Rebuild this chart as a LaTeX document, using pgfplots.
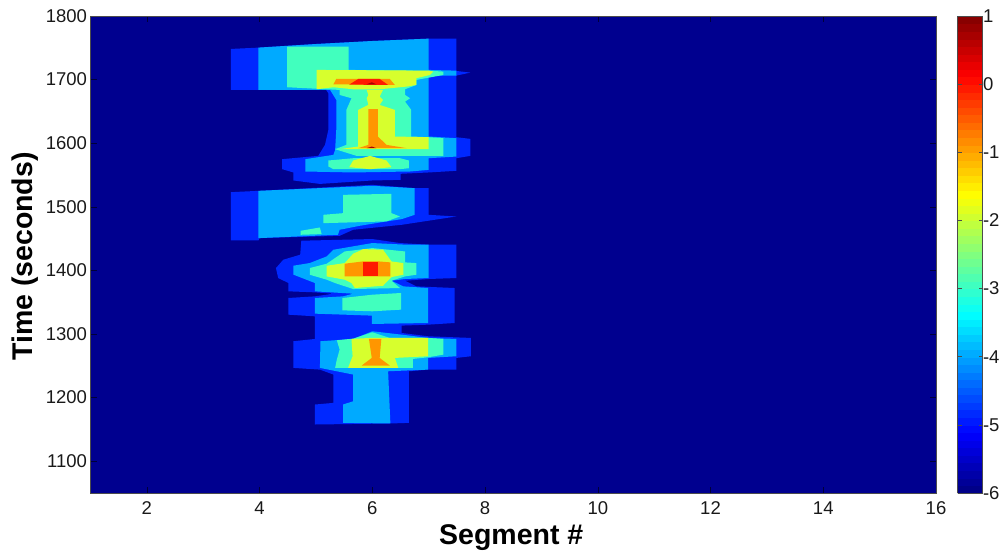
\documentclass[border=0pt]{standalone}
\usepackage{pgfplots}
\pgfplotsset{compat=1.18}
\usepackage{fontspec}
\setmainfont{Liberation Sans}
\definecolor{lvA}{RGB}{0,0,143}
\definecolor{lvB}{RGB}{0,40,255}
\definecolor{lvC}{RGB}{0,170,255}
\definecolor{lvD}{RGB}{65,255,190}
\definecolor{lvE}{RGB}{215,255,45}
\definecolor{lvF}{RGB}{255,150,0}
\definecolor{lvG}{RGB}{255,25,0}
\definecolor{lvH}{RGB}{170,0,0}
\definecolor{ticktxt}{RGB}{25,25,25}
\pgfplotsset{
  lev/.style={fill=#1,draw=none,mark=none,forget plot},
  /pgf/number format/assume math mode=true,
  /pgf/number format/set thousands separator={},
}
\begin{document}
\begin{tikzpicture}
\useasboundingbox (0,0) rectangle (1005pt,550pt);
\begin{axis}[
  at={(90.5pt,57pt)},anchor=south west,
  scale only axis,width=845.5pt,height=477pt,
  xmin=1,xmax=16,ymin=1050,ymax=1800,
  xtick={2,4,...,16},ytick={1100,1200,...,1800},
  tick align=inside,tick pos=both,major tick length=6pt,
  tick style={color=black!60!lvA,line width=0.5pt},
  axis line style={color=black!70,line width=0.7pt},
  axis on top,
  axis background/.style={fill=lvA},
  tick label style={font=\fontsize{18.5}{20}\selectfont,text=ticktxt},
  xticklabel style={yshift=-5pt},
  xlabel={\fontsize{28.5}{30}\selectfont\bfseries Segment \#},
  ylabel={\fontsize{28.5}{30}\selectfont\bfseries Time (seconds)},
  xlabel style={yshift=-3pt,xshift=-2pt},
  ylabel style={yshift=1pt,xshift=-2pt},
  colormap/jet,
  point meta min=-6,point meta max=1,
  colorbar sampled,
  colorbar style={
    samples=64,
    at={(parent axis.north east)},anchor=north west,xshift=13pt,
    width=25pt,
    ytick={-6,-5,...,1},
    ytick pos=both,yticklabel pos=right,
    tick align=inside,major tick length=4pt,
    tick style={color=black!70,line width=0.5pt},
    axis line style={color=black!70,line width=0.6pt},
    yticklabel style={font=\fontsize{18.5}{20}\selectfont,text=ticktxt,xshift=-3pt},
  },
]
% ---- level -5
\addplot[lev=lvB] coordinates {(3.49,1748.2)(3.98,1750.3)(5.01,1756)(6.0,1760.7)(7.0,1764.4)(7.49,1764.4)(7.49,1713.6)(7.74,1711)(7.49,1706.3)(7.49,1609.4)(7.74,1606.8)(7.74,1580.1)(7.49,1576.4)(7.49,1556.6)(7.0,1554)(6.5,1551.9)(6.5,1542.4)(6.0,1541.4)(5.07,1536)(4.6,1541.4)(4.6,1554)(4.4,1559.2)(4.4,1574.9)(5.04,1580.1)(5.16,1597.4)(5.22,1621)(5.22,1678.5)(5.18,1683.8)(3.98,1683.8)(3.49,1683.8)} --cycle;
\addplot[lev=lvB] coordinates {(3.49,1523)(3.98,1525.1)(6.0,1534.5)(6.75,1529.3)(7.0,1529.3)(7.0,1487.4)(7.49,1484.8)(6.52,1471.7)(5.66,1463.9)(5.42,1454.4)(4.0,1450.8)(3.98,1447.1)(3.49,1447.1)} --cycle;
\addplot[lev=lvB] coordinates {(4.74,1446.7)(6.0,1449.3)(6.49,1443)(7.0,1440.4)(7.49,1440.4)(7.49,1388)(7.0,1386.5)(6.58,1383.8)(6.78,1374.9)(7.46,1372.3)(7.46,1317.3)(6.99,1314.7)(6.52,1313.2)(6.52,1301.6)(6.99,1296.4)(7.75,1293.8)(7.75,1265)(7.49,1262.4)(7.49,1244)(6.99,1244)(6.65,1241.4)(6.65,1160.3)(6.32,1159.3)(4.98,1157.7)(4.98,1189.1)(5.31,1191.7)(5.31,1236.2)(5.07,1244)(4.6,1246.7)(4.6,1288.6)(4.98,1292.2)(4.98,1327.8)(4.51,1330.4)(4.51,1356.6)(4.98,1359.2)(5.31,1363.4)(4.98,1365.5)(4.51,1367.1)(4.51,1380.2)(4.33,1388)(4.29,1403.7)(4.42,1416.8)(4.72,1424.7)} --cycle;
% ---- level -4
\addplot[lev=lvC] coordinates {(3.98,1750.3)(5.01,1756)(6,1760.7)(7,1764.4)(7,1715.2)(7.49,1714.1)(7.49,1706.3)(7,1706.3)(7,1610.5)(7.49,1607.9)(7.49,1579)(7,1576.4)(7,1558.1)(6.67,1555.5)(5.66,1554)(4.81,1555.5)(4.81,1574.9)(5.31,1581.7)(5.34,1589.5)(5.36,1621)(5.36,1668.1)(5.25,1683.8)(3.98,1683.8)} --cycle;
\addplot[lev=lvC] coordinates {(3.98,1525.1)(6,1533)(6.75,1529.3)(6.75,1487.4)(6.52,1480.6)(6.25,1477)(5.78,1470.2)(5.42,1463.9)(5.39,1456)(3.98,1450.8)} --cycle;
\addplot[lev=lvC] coordinates {(4.6,1407.4)(4.89,1411.6)(5.19,1422)(5.31,1432.5)(6,1443)(6.61,1440.4)(7,1440.4)(7,1388)(6.58,1386.5)(6.34,1383.8)(6.55,1374.9)(6.99,1372.3)(6.99,1317.3)(5.99,1315.8)(5.99,1328.9)(4.98,1332)(4.98,1356.6)(5.48,1359.2)(5.66,1363.4)(4.98,1367.1)(4.98,1380.2)(4.6,1393.3)} --cycle;
\addplot[lev=lvC] coordinates {(5.08,1288.6)(5.66,1292.2)(6,1304.3)(6.52,1299)(6.99,1293.8)(7.49,1292.2)(7.49,1265)(6.99,1262.4)(6.99,1244)(6.28,1241.4)(6.32,1159.3)(5.48,1160.3)(5.48,1189.1)(5.66,1194.3)(5.66,1236.2)(5.07,1246.7)} --cycle;
% ---- level -3
\addplot[lev=lvD] coordinates {(4.49,1751.8)(5.58,1751.8)(5.58,1715.2)(7,1714.1)(7.26,1712.6)(7.26,1707.3)(6.78,1699.5)(6.78,1691.6)(6.58,1684.8)(6.58,1675.9)(6.67,1670.7)(6.58,1665.4)(6.69,1652.4)(6.69,1610.5)(7,1609.4)(7.26,1607.9)(7.26,1580.1)(5.72,1580.1)(5.34,1590.6)(5.54,1597.4)(5.54,1652.4)(5.63,1670.7)(5.42,1675.9)(5.42,1683.8)(4.49,1688)} --cycle;
\addplot[lev=lvD] coordinates {(5.22,1572.8)(5.66,1576.4)(6.49,1576.4)(6.65,1572.8)(6.65,1560.7)(6.49,1559.2)(5.31,1559.2)(5.22,1563.4)} --cycle;
\addplot[lev=lvD] coordinates {(5.48,1518.8)(6.34,1520.4)(6.34,1490)(6.49,1484.8)(6.25,1477)(5.13,1474.3)(5.13,1487.4)(5.48,1490)} --cycle;
\addplot[lev=lvD] coordinates {(4.73,1462.3)(5.07,1467.5)(5.10,1457.1)(4.73,1456)} --cycle;
\addplot[lev=lvD] coordinates {(4.89,1403.7)(5.19,1410.5)(5.51,1429.8)(6,1435.1)(6.58,1429.8)(6.58,1412.6)(6.78,1411.5)(6.78,1393.2)(6.58,1390.6)(6.34,1383.8)(6.49,1372.3)(5.66,1370.7)(5.34,1380.1)(5.19,1385.4)(4.89,1393.2)} --cycle;
\addplot[lev=lvD] coordinates {(5.47,1356.6)(6,1361.8)(6.51,1364.5)(6.51,1338.3)(6,1335.7)(5.47,1337.2)} --cycle;
\addplot[lev=lvD] coordinates {(5.37,1290.1)(5.66,1292.7)(6,1302.7)(6.31,1293.8)(6.99,1293.8)(7.26,1292.2)(7.26,1267.6)(6.99,1263.4)(6.72,1260.8)(6.72,1246.7)(5.34,1246.7)(5.37,1259.8)(5.42,1275.5)} --cycle;
% ---- level -2
\addplot[lev=lvE] coordinates {(5.01,1715.2)(7,1714.1)(7.08,1712.6)(7.02,1707.3)(6.78,1702.1)(6.78,1691.6)(6.61,1689)(6.13,1684.8)(5.66,1684.8)(5.31,1688)(5.01,1684.8)} --cycle;
\addplot[lev=lvE] coordinates {(5.90,1683.8)(6.19,1683.8)(6.13,1673.3)(6.19,1668.1)(6.13,1660.2)(6.40,1652.4)(6.40,1610.5)(7,1609.4)(7,1590.6)(5.78,1590.6)(5.42,1590.6)(5.75,1594.8)(5.75,1652.4)(5.93,1660.2)(5.90,1670.7)(5.93,1675.9)} --cycle;
\addplot[lev=lvE] coordinates {(5.59,1562.3)(5.66,1572.8)(5.96,1580.1)(6.25,1572.8)(6.34,1562.3)(5.96,1559.2)} --cycle;
\addplot[lev=lvE] coordinates {(5.19,1407.3)(5.51,1411.5)(5.66,1426.2)(5.84,1433.5)(6.19,1432.5)(6.34,1414.1)(6.55,1411.5)(6.55,1393.2)(6.34,1389.5)(6.19,1375.9)(5.69,1372.3)(5.63,1380.1)(5.51,1385.4)(5.19,1390.6)} --cycle;
\addplot[lev=lvE] coordinates {(5.63,1292.2)(5.96,1293.8)(6.99,1293.8)(6.99,1265)(6.4,1262.4)(6.46,1246.7)(5.57,1246.7)(5.65,1265)} --cycle;
% ---- level -1
\addplot[lev=lvF] coordinates {(5.31,1692.7)(5.36,1701)(6.31,1701)(6.40,1691.6)} --cycle;
\addplot[lev=lvF] coordinates {(5.93,1653.4)(6.10,1653.4)(6.10,1610.5)(6.25,1597.4)(6.61,1592.2)(5.75,1592.2)(5.93,1597.4)} --cycle;
\addplot[lev=lvF] coordinates {(5.51,1410.5)(5.84,1414.2)(6.10,1414.2)(6.32,1412.6)(6.32,1390.6)(5.51,1390.6)} --cycle;
\addplot[lev=lvF] coordinates {(5.94,1292.2)(6.16,1292.2)(6.13,1262.4)(6.31,1250.3)(5.81,1250.3)(5.99,1262.4)} --cycle;
% ---- level 0
\addplot[lev=lvG] coordinates {(5.59,1692.1)(5.75,1701)(6.13,1701)(6.28,1691.6)} --cycle;
\addplot[lev=lvG] coordinates {(5.84,1413.1)(6.10,1413.1)(6.10,1391.6)(5.84,1391.6)} --cycle;
% ---- level 1
\addplot[lev=lvH] coordinates {(5.90,1692.7)(5.99,1695.8)(6.07,1692.7)} --cycle;
\addplot[lev=lvH] coordinates {(5.90,1592.2)(5.99,1594.8)(6.07,1592.2)} --cycle;
\end{axis}
\end{tikzpicture}
\end{document}
